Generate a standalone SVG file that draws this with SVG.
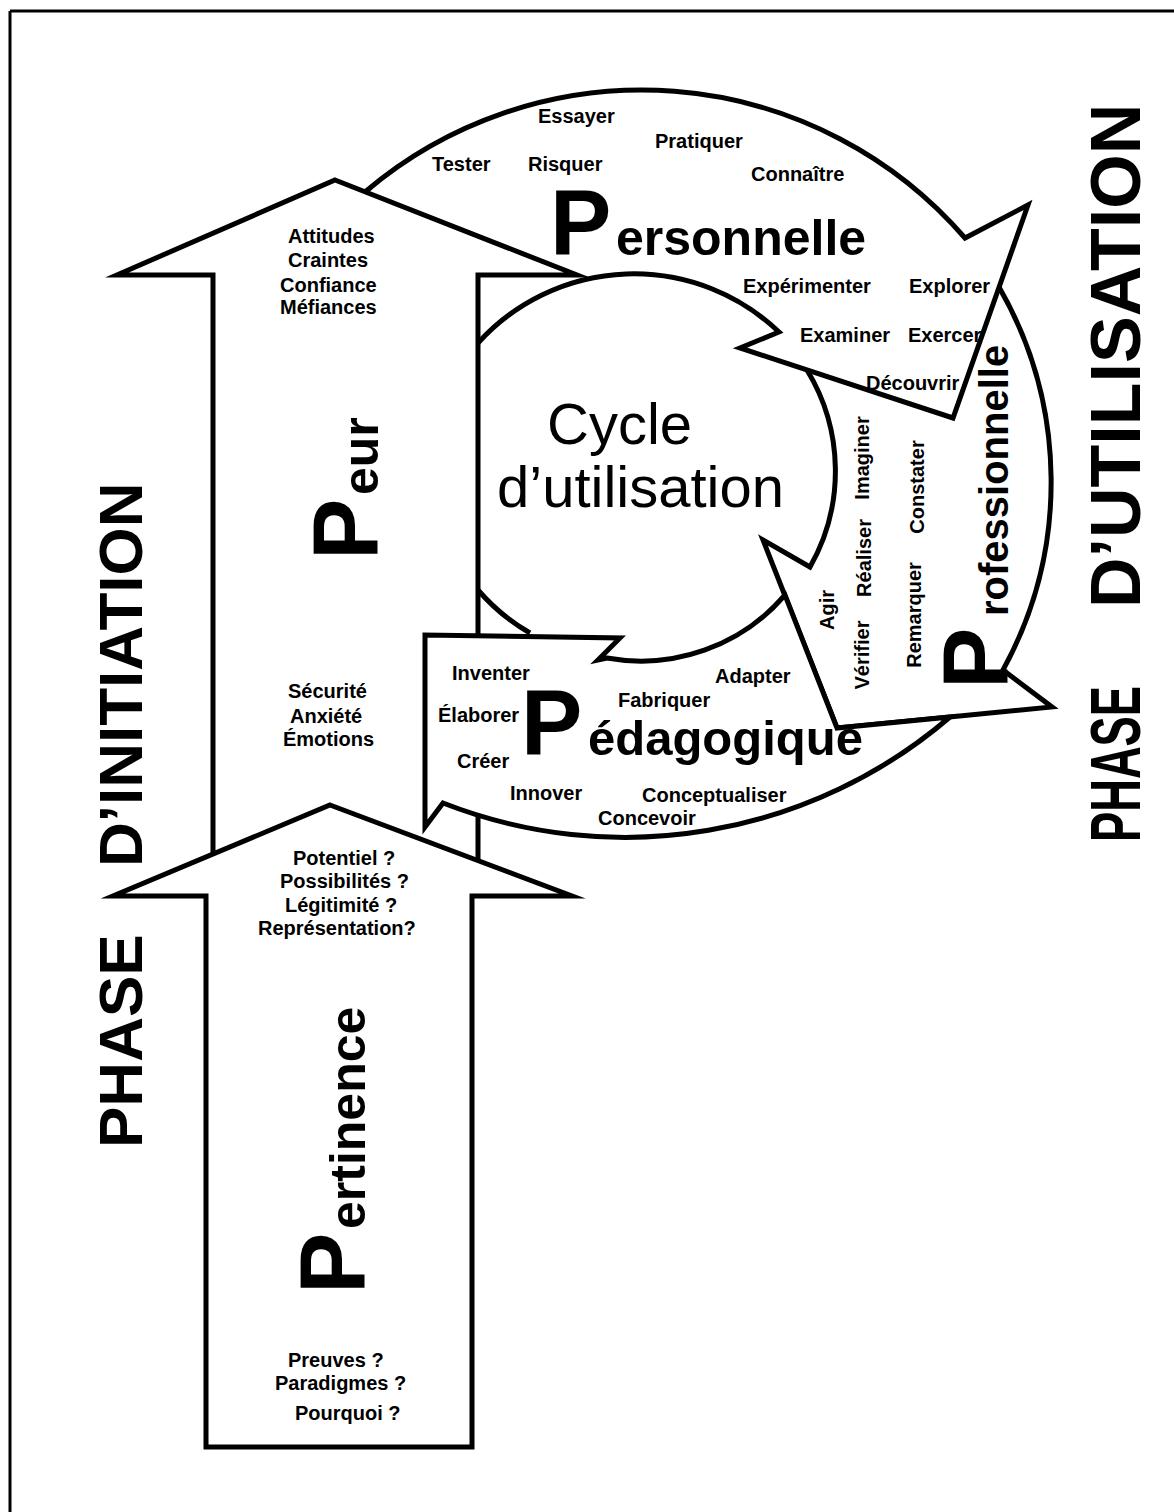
<svg xmlns="http://www.w3.org/2000/svg" width="1174" height="1512" viewBox="0 0 1174 1512">
  <style>
    .ln { fill: none; stroke: #000; stroke-width: 5; stroke-linejoin: miter; stroke-miterlimit: 10; }
    .sh { fill: #fff; stroke: #000; stroke-width: 5; stroke-linejoin: miter; stroke-miterlimit: 10; }
    .fr { fill: none; stroke: #000; stroke-width: 3; }
    text { font-family: "Liberation Sans", Arial, Helvetica, sans-serif; fill: #000; }
    .lb { font-weight: bold; font-size: 20px; }
    .lr { font-weight: bold; font-size: 20px; text-anchor: middle; }
    .cap { font-weight: bold; font-size: 92px; }
    .rest { font-weight: bold; font-size: 50px; }
    .phase { font-weight: bold; font-size: 62px; }
    .phase-r { font-weight: bold; font-size: 70px; }
    .cyc { font-size: 58px; }
  </style>

  <!-- page frame (top and left edges only) -->
  <g id="frame">
    <path class="fr" d="M10,11 H1174 M10,11 V1512"/>
  </g>

  <!-- band 1 of the cycle: Personnelle -->
  <g id="node-personnelle">
    <path class="ln" d="M365,192 A427,427 0 0 1 965,238 L1028,205 L953,418 L740,348 L779,332 A210,210 0 0 0 478,343"/>
    <text class="lb" x="538" y="123">Essayer</text>
    <text class="lb" x="655" y="148">Pratiquer</text>
    <text class="lb" x="432" y="171">Tester</text>
    <text class="lb" x="528" y="171">Risquer</text>
    <text class="lb" x="751" y="181">Connaître</text>
    <text x="550" y="255"><tspan class="cap">P</tspan><tspan class="rest" x="616">ersonnelle</tspan></text>
    <text class="lb" x="743" y="293">Expérimenter</text>
    <text class="lb" x="909" y="293">Explorer</text>
    <text class="lb" x="800" y="342">Examiner</text>
    <text class="lb" x="908" y="342">Exercer</text>
    <text class="lb" x="866" y="390">Découvrir</text>
  </g>

  <!-- band 2 of the cycle: Professionnelle -->
  <g id="node-professionnelle">
    <path class="ln" d="M999,287 A391,391 0 0 1 1003,670 L1052,707 L837,728 L763,540 L810,567 A194,194 0 0 0 807,370"/>
    <text class="lr" transform="translate(869,458) rotate(-90)">Imaginer</text>
    <text class="lr" transform="translate(924,487) rotate(-90)">Constater</text>
    <text class="lr" transform="translate(871,558) rotate(-90)">Réaliser</text>
    <text class="lr" transform="translate(921,615) rotate(-90)">Remarquer</text>
    <text class="lr" transform="translate(834,610) rotate(-90)">Agir</text>
    <text class="lr" transform="translate(869,655) rotate(-90)">Vérifier</text>
    <text transform="translate(1008,689) rotate(-90)"><tspan class="cap">P</tspan><tspan class="rest" style="font-size:40px" x="73">rofessionnelle</tspan></text>
  </g>

  <!-- centre of the cycle -->
  <g id="node-cycle">
    <path class="ln" d="M478,590 A200,200 0 0 0 530,633"/>
    <text class="cyc"><tspan x="547" y="444">Cycle</tspan><tspan x="497" y="507">d’utilisation</tspan></text>
  </g>

  <!-- upward arrow: Peur -->
  <g id="node-peur">
    <path class="sh" d="M335,180 L577,275 L478,275 L478,885 L213,885 L213,275 L117,275 Z"/>
    <text class="lb" x="288" y="243">Attitudes</text>
    <text class="lb" x="288" y="267">Craintes</text>
    <text class="lb" x="280" y="292">Confiance</text>
    <text class="lb" x="280" y="314">Méfiances</text>
    <text transform="translate(378,560) rotate(-90)"><tspan class="cap">P</tspan><tspan class="rest" x="65">eur</tspan></text>
    <text class="lb" x="288" y="698">Sécurité</text>
    <text class="lb" x="290" y="723">Anxiété</text>
    <text class="lb" x="283" y="746">Émotions</text>
  </g>

  <!-- band 3 of the cycle: Pédagogique -->
  <g id="node-pedagogique">
    <path class="sh" d="M785,595 A190,190 0 0 1 607,658 L598,660 L620,638 L425,635 L425,827 L443,803 A499,499 0 0 0 950,717 L837,728 Z"/>
    <text class="lb" x="452" y="680">Inventer</text>
    <text class="lb" x="715" y="683">Adapter</text>
    <text class="lb" x="618" y="707">Fabriquer</text>
    <text class="lb" x="438" y="722">Élaborer</text>
    <text x="521" y="755"><tspan class="cap">P</tspan><tspan class="rest" style="font-size:49px" x="588">édagogique</tspan></text>
    <text class="lb" x="457" y="768">Créer</text>
    <text class="lb" x="510" y="800">Innover</text>
    <text class="lb" x="642" y="802">Conceptualiser</text>
    <text class="lb" x="598" y="825">Concevoir</text>
  </g>

  <!-- upward arrow: Pertinence -->
  <g id="node-pertinence">
    <path class="sh" d="M330,805 L572,896 L472,896 L472,1447 L206,1447 L206,896 L113,896 Z"/>
    <text class="lb" x="293" y="865">Potentiel ?</text>
    <text class="lb" x="280" y="888">Possibilités ?</text>
    <text class="lb" x="285" y="912">Légitimité ?</text>
    <text class="lb" x="258" y="935">Représentation?</text>
    <text transform="translate(365,1294) rotate(-90)"><tspan class="cap">P</tspan><tspan class="rest" x="65">ertinence</tspan></text>
    <text class="lb" x="288" y="1367">Preuves ?</text>
    <text class="lb" x="275" y="1390">Paradigmes ?</text>
    <text class="lb" x="295" y="1420">Pourquoi ?</text>
  </g>

  <!-- phase titles -->
  <g id="phase-labels">
    <text class="phase" transform="translate(142,1148) rotate(-90)">PHASE <tspan x="281">D’INITIATION</tspan></text>
    <text class="phase-r" transform="translate(1140,842) rotate(-90)" textLength="156" lengthAdjust="spacingAndGlyphs">PHASE</text>
    <text class="phase-r" transform="translate(1140,608) rotate(-90)">D’UTILISATION</text>
  </g>
</svg>
